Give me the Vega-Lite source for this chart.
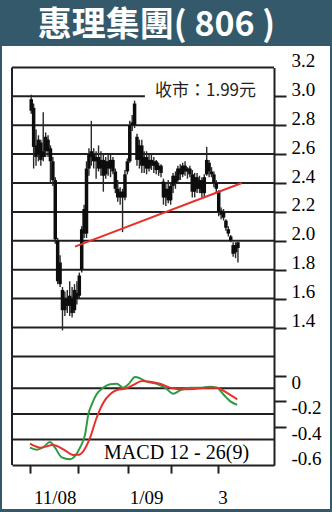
{
  "$schema": "https://vega.github.io/schema/vega-lite/v6.json",
  "width": 328,
  "height": 463,
  "autosize": {"type": "none"},
  "padding": {"left": 2, "top": 46, "right": 2, "bottom": 3},
  "background": "#34596b",
  "title": {
    "text": "惠理集團( 806 )",
    "font": "Noto Sans CJK TC",
    "fontWeight": "bold",
    "fontSize": 34,
    "color": "#ffffff",
    "anchor": "middle",
    "frame": "group",
    "offset": 11,
    "baseline": "alphabetic",
    "dx": -9.5,
    "dy": 35
  },
  "config": {
    "view": {"fill": "#ffffff", "stroke": null},
    "axis": {
      "domainColor": "#231f20",
      "domainWidth": 2,
      "tickColor": "#231f20",
      "tickWidth": 2,
      "labelFont": "Liberation Serif",
      "labelFontSize": 19,
      "labelColor": "#000000",
      "grid": false,
      "labelOverlap": false,
      "labelBound": false,
      "labelFlush": false
    }
  },
  "datasets": {
    "ohlc": [
      {"t":0,"o":2.98,"h":3.01,"l":2.88,"c":2.90},
      {"t":1,"o":2.92,"h":2.95,"l":2.50,"c":2.65},
      {"t":2,"o":2.66,"h":2.77,"l":2.52,"c":2.58},
      {"t":3,"o":2.60,"h":2.73,"l":2.55,"c":2.70},
      {"t":4,"o":2.68,"h":2.70,"l":2.52,"c":2.56},
      {"t":5,"o":2.58,"h":2.89,"l":2.55,"c":2.62},
      {"t":6,"o":2.62,"h":2.75,"l":2.58,"c":2.72},
      {"t":7,"o":2.70,"h":2.73,"l":2.58,"c":2.62},
      {"t":8,"o":2.64,"h":2.66,"l":2.40,"c":2.55},
      {"t":9,"o":2.55,"h":2.58,"l":2.38,"c":2.42},
      {"t":10,"o":2.42,"h":2.44,"l":1.98,"c":2.01},
      {"t":11,"o":2.00,"h":2.02,"l":1.70,"c":1.72},
      {"t":12,"o":1.85,"h":1.90,"l":1.68,"c":1.70},
      {"t":13,"o":1.66,"h":1.68,"l":1.38,"c":1.52},
      {"t":14,"o":1.52,"h":1.65,"l":1.48,"c":1.60},
      {"t":15,"o":1.60,"h":1.66,"l":1.50,"c":1.55},
      {"t":16,"o":1.55,"h":1.72,"l":1.48,"c":1.62},
      {"t":17,"o":1.60,"h":1.68,"l":1.47,"c":1.50},
      {"t":18,"o":1.52,"h":1.70,"l":1.50,"c":1.66},
      {"t":19,"o":1.64,"h":1.72,"l":1.56,"c":1.60},
      {"t":20,"o":1.62,"h":1.78,"l":1.60,"c":1.76},
      {"t":21,"o":1.80,"h":2.10,"l":1.78,"c":2.08},
      {"t":22,"o":2.05,"h":2.25,"l":2.02,"c":2.22},
      {"t":23,"o":2.05,"h":2.55,"l":2.02,"c":2.50},
      {"t":24,"o":2.50,"h":2.64,"l":2.45,"c":2.60},
      {"t":25,"o":2.58,"h":2.83,"l":2.52,"c":2.62},
      {"t":26,"o":2.60,"h":2.64,"l":2.50,"c":2.55},
      {"t":27,"o":2.55,"h":2.62,"l":2.43,"c":2.58},
      {"t":28,"o":2.58,"h":2.66,"l":2.48,"c":2.50},
      {"t":29,"o":2.50,"h":2.62,"l":2.45,"c":2.56},
      {"t":30,"o":2.56,"h":2.60,"l":2.34,"c":2.45},
      {"t":31,"o":2.46,"h":2.58,"l":2.43,"c":2.55},
      {"t":32,"o":2.55,"h":2.60,"l":2.45,"c":2.50},
      {"t":33,"o":2.50,"h":2.60,"l":2.44,"c":2.56},
      {"t":34,"o":2.56,"h":2.58,"l":2.46,"c":2.48},
      {"t":35,"o":2.48,"h":2.50,"l":2.33,"c":2.36},
      {"t":36,"o":2.36,"h":2.42,"l":2.27,"c":2.30},
      {"t":37,"o":2.30,"h":2.37,"l":2.25,"c":2.34},
      {"t":38,"o":2.34,"h":2.36,"l":2.06,"c":2.30},
      {"t":39,"o":2.30,"h":2.49,"l":2.28,"c":2.46},
      {"t":40,"o":2.48,"h":2.57,"l":2.46,"c":2.55},
      {"t":41,"o":2.55,"h":2.83,"l":2.54,"c":2.80},
      {"t":42,"o":2.80,"h":2.87,"l":2.76,"c":2.82},
      {"t":43,"o":2.80,"h":2.97,"l":2.78,"c":2.95},
      {"t":44,"o":2.72,"h":2.74,"l":2.52,"c":2.56},
      {"t":45,"o":2.56,"h":2.70,"l":2.50,"c":2.66},
      {"t":46,"o":2.66,"h":2.70,"l":2.47,"c":2.52},
      {"t":47,"o":2.52,"h":2.62,"l":2.47,"c":2.58},
      {"t":48,"o":2.58,"h":2.62,"l":2.46,"c":2.50},
      {"t":49,"o":2.50,"h":2.60,"l":2.48,"c":2.56},
      {"t":50,"o":2.56,"h":2.60,"l":2.49,"c":2.52},
      {"t":51,"o":2.52,"h":2.58,"l":2.47,"c":2.55},
      {"t":52,"o":2.55,"h":2.56,"l":2.46,"c":2.49},
      {"t":53,"o":2.49,"h":2.54,"l":2.45,"c":2.52},
      {"t":54,"o":2.52,"h":2.53,"l":2.44,"c":2.47},
      {"t":55,"o":2.41,"h":2.43,"l":2.25,"c":2.30},
      {"t":56,"o":2.30,"h":2.40,"l":2.24,"c":2.36},
      {"t":57,"o":2.36,"h":2.42,"l":2.26,"c":2.28},
      {"t":58,"o":2.28,"h":2.40,"l":2.25,"c":2.38},
      {"t":59,"o":2.38,"h":2.47,"l":2.33,"c":2.45},
      {"t":60,"o":2.45,"h":2.48,"l":2.36,"c":2.40},
      {"t":61,"o":2.42,"h":2.52,"l":2.40,"c":2.50},
      {"t":62,"o":2.50,"h":2.53,"l":2.42,"c":2.46},
      {"t":63,"o":2.46,"h":2.54,"l":2.44,"c":2.52},
      {"t":64,"o":2.52,"h":2.55,"l":2.45,"c":2.48},
      {"t":65,"o":2.48,"h":2.51,"l":2.43,"c":2.50},
      {"t":66,"o":2.50,"h":2.52,"l":2.44,"c":2.46},
      {"t":67,"o":2.46,"h":2.49,"l":2.30,"c":2.34},
      {"t":68,"o":2.34,"h":2.47,"l":2.30,"c":2.44},
      {"t":69,"o":2.44,"h":2.47,"l":2.33,"c":2.36},
      {"t":70,"o":2.36,"h":2.45,"l":2.33,"c":2.42},
      {"t":71,"o":2.42,"h":2.44,"l":2.30,"c":2.33},
      {"t":72,"o":2.33,"h":2.46,"l":2.30,"c":2.44},
      {"t":73,"o":2.46,"h":2.65,"l":2.45,"c":2.56},
      {"t":74,"o":2.54,"h":2.56,"l":2.44,"c":2.48},
      {"t":75,"o":2.48,"h":2.51,"l":2.44,"c":2.46},
      {"t":76,"o":2.46,"h":2.48,"l":2.37,"c":2.40},
      {"t":77,"o":2.40,"h":2.42,"l":2.33,"c":2.36},
      {"t":78,"o":2.34,"h":2.35,"l":2.17,"c":2.20},
      {"t":79,"o":2.21,"h":2.23,"l":2.15,"c":2.18},
      {"t":80,"o":2.16,"h":2.22,"l":2.14,"c":2.20},
      {"t":81,"o":2.14,"h":2.15,"l":2.07,"c":2.09},
      {"t":82,"o":2.08,"h":2.10,"l":2.03,"c":2.05},
      {"t":83,"o":2.03,"h":2.04,"l":1.99,"c":2.00},
      {"t":84,"o":1.97,"h":1.99,"l":1.89,"c":1.91},
      {"t":85,"o":1.92,"h":1.99,"l":1.88,"c":1.97},
      {"t":86,"o":1.95,"h":1.99,"l":1.85,"c":1.99}
    ],
    "pgrid": [
      {"p":3.2,"t":-8,"t2":101},
      {"p":3.0,"t":-8,"t2":47.3},
      {"p":2.8,"t":-8,"t2":101},
      {"p":2.6,"t":-8,"t2":101},
      {"p":2.4,"t":-8,"t2":101},
      {"p":2.2,"t":-8,"t2":101},
      {"p":2.0,"t":-8,"t2":101},
      {"p":1.8,"t":-8,"t2":101},
      {"p":1.6,"t":-8,"t2":101},
      {"p":1.4,"t":-8,"t2":101},
      {"p":1.2,"t":-8,"t2":101}
    ],
    "pframe": [{"t":-8,"p":1.2,"p2":3.2}],
    "trend": [{"t":18.2,"p":1.96},{"t":87.6,"p":2.40}],
    "plabel": [{"t":51.5,"p":3.0,"text":"收市：1.99元"}],
    "mgrid": [
      {"v":-0.1,"t":-8,"t2":101},
      {"v":-0.3,"t":-8,"t2":101},
      {"v":-0.5,"t":-8,"t2":101}
    ],
    "mframe": [{"t":-8,"v":-0.7,"v2":0.15}],
    "mlabel": [{"t":30.3,"v":-0.655,"text":"MACD 12 - 26(9)"}],
    "macd": [
      {"s":"MACD","t":-0.5,"v":-0.564},{"s":"MACD","t":2.3,"v":-0.58},{"s":"MACD","t":5.0,"v":-0.56},
      {"s":"MACD","t":7.8,"v":-0.52},{"s":"MACD","t":9.9,"v":-0.564},{"s":"MACD","t":12.7,"v":-0.64},
      {"s":"MACD","t":16.1,"v":-0.655},{"s":"MACD","t":18.2,"v":-0.63},{"s":"MACD","t":20.3,"v":-0.564},
      {"s":"MACD","t":22.4,"v":-0.46},{"s":"MACD","t":23.8,"v":-0.30},{"s":"MACD","t":25.2,"v":-0.225},
      {"s":"MACD","t":27.2,"v":-0.147},{"s":"MACD","t":30.0,"v":-0.095},{"s":"MACD","t":32.8,"v":-0.069},
      {"s":"MACD","t":35.6,"v":-0.064},{"s":"MACD","t":38.3,"v":-0.095},{"s":"MACD","t":40.4,"v":-0.069},
      {"s":"MACD","t":43.2,"v":-0.012},{"s":"MACD","t":45.3,"v":-0.022},{"s":"MACD","t":48.0,"v":-0.048},
      {"s":"MACD","t":52.2,"v":-0.064},{"s":"MACD","t":55.7,"v":-0.095},{"s":"MACD","t":59.1,"v":-0.142},
      {"s":"MACD","t":61.9,"v":-0.116},{"s":"MACD","t":66.1,"v":-0.095},{"s":"MACD","t":70.2,"v":-0.095},
      {"s":"MACD","t":74.4,"v":-0.087},{"s":"MACD","t":77.2,"v":-0.095},{"s":"MACD","t":79.9,"v":-0.147},
      {"s":"MACD","t":82.7,"v":-0.2},{"s":"MACD","t":85.7,"v":-0.23},
      {"s":"Signal","t":-0.5,"v":-0.533},{"s":"Signal","t":3.7,"v":-0.564},{"s":"Signal","t":9.2,"v":-0.543},
      {"s":"Signal","t":13.4,"v":-0.577},{"s":"Signal","t":17.5,"v":-0.621},{"s":"Signal","t":19.6,"v":-0.62},
      {"s":"Signal","t":21.7,"v":-0.59},{"s":"Signal","t":24.5,"v":-0.486},{"s":"Signal","t":27.2,"v":-0.33},
      {"s":"Signal","t":30.0,"v":-0.212},{"s":"Signal","t":32.8,"v":-0.147},{"s":"Signal","t":35.6,"v":-0.113},
      {"s":"Signal","t":39.7,"v":-0.10},{"s":"Signal","t":42.5,"v":-0.074},{"s":"Signal","t":46.0,"v":-0.043},
      {"s":"Signal","t":49.4,"v":-0.048},{"s":"Signal","t":53.6,"v":-0.064},{"s":"Signal","t":57.7,"v":-0.095},
      {"s":"Signal","t":61.9,"v":-0.108},{"s":"Signal","t":67.4,"v":-0.105},{"s":"Signal","t":73.0,"v":-0.095},
      {"s":"Signal","t":77.2,"v":-0.095},{"s":"Signal","t":81.3,"v":-0.134},{"s":"Signal","t":85.7,"v":-0.186}
    ]
  },
  "encoding": {
    "x": {
      "field": "t",
      "type": "quantitative",
      "scale": {"domain": [-8, 101], "range": [10, 272], "zero": false, "nice": false},
      "axis": {
        "title": null,
        "orient": "bottom",
        "offset": -43.9,
        "values": [-0.5, 19.5, 40.3, 58.2, 77.7, 9.8, 47.8, 79.6],
        "labelExpr": "datum.value == 9.8 ? '11/08' : datum.value == 47.8 ? '1/09' : datum.value == 79.6 ? '3' : ''",
        "tickOpacity": {"condition": {"test": "datum.value == 9.8 || datum.value == 47.8 || datum.value == 79.6", "value": 0}, "value": 1},
        "tickSize": 8,
        "labelBaseline": "alphabetic",
        "labelPadding": 30,
        "labelAlign": "center"
      }
    }
  },
  "layer": [
    {
      "layer": [
        {
          "data": {"name": "pgrid"},
          "mark": {"type": "rule", "color": "#231f20", "strokeWidth": 2},
          "encoding": {
            "y": {
              "field": "p",
              "type": "quantitative",
              "scale": {"domain": [1.2, 3.2], "range": [310.4, 21.4], "zero": false, "nice": false},
              "axis": {
                "title": null,
                "orient": "right",
                "offset": -56,
                "values": [1.4, 1.6, 1.8, 2.0, 2.2, 2.4, 2.6, 2.8, 3.0, 3.2],
                "format": ".1f",
                "tickSize": 12,
                "labelPadding": 5,
                "labelAlign": "left",
                "labelBaseline": "alphabetic",
                "labelOffset": -1,
                "tickOpacity": {"condition": {"test": "datum.value > 3.1", "value": 0}, "value": 1}
              }
            },
            "x2": {"field": "t2"}
          }
        },
        {
          "data": {"name": "pframe"},
          "mark": {"type": "rule", "color": "#231f20", "strokeWidth": 2},
          "encoding": {
            "y": {"field": "p", "type": "quantitative", "axis": {"title": null}},
            "y2": {"field": "p2"}
          }
        },
        {
          "data": {"name": "ohlc"},
          "mark": {"type": "rule", "color": "#2b2828", "strokeWidth": 1.4},
          "encoding": {
            "y": {"field": "l", "type": "quantitative", "axis": {"title": null}},
            "y2": {"field": "h"}
          }
        },
        {
          "data": {"name": "ohlc"},
          "mark": {"type": "rule", "color": "#0d0d0d", "strokeWidth": 3.5},
          "encoding": {
            "y": {"field": "o", "type": "quantitative", "axis": {"title": null}},
            "y2": {"field": "c"}
          }
        },
        {
          "data": {"name": "trend"},
          "mark": {"type": "line", "color": "#e8302a", "strokeWidth": 2},
          "encoding": {
            "y": {"field": "p", "type": "quantitative", "axis": {"title": null}}
          }
        },
        {
          "data": {"name": "plabel"},
          "mark": {"type": "text", "font": "Noto Sans CJK TC", "fontSize": 17, "align": "left", "baseline": "alphabetic", "color": "#231f20"},
          "encoding": {
            "y": {"field": "p", "type": "quantitative", "axis": {"title": null}},
            "text": {"field": "text"}
          }
        }
      ]
    },
    {
      "layer": [
        {
          "data": {"name": "mgrid"},
          "mark": {"type": "rule", "color": "#231f20", "strokeWidth": 2},
          "encoding": {
            "y": {
              "field": "v",
              "type": "quantitative",
              "scale": {"domain": [-0.7, 0.15], "range": [419.1, 310.3], "zero": false, "nice": false},
              "axis": {
                "title": null,
                "orient": "right",
                "offset": -56,
                "values": [0, -0.2, -0.4, -0.6],
                "labelExpr": "datum.value == 0 ? '0' : '-' + format(-datum.value, '.1f')",
                "tickSize": 12,
                "labelPadding": 5,
                "labelAlign": "left",
                "labelBaseline": "alphabetic",
                "labelOffset": 12.5,
                "tickOpacity": {"condition": {"test": "datum.value < -0.5", "value": 0}, "value": 1}
              }
            },
            "x2": {"field": "t2"}
          }
        },
        {
          "data": {"name": "mframe"},
          "mark": {"type": "rule", "color": "#231f20", "strokeWidth": 2},
          "encoding": {
            "y": {"field": "v", "type": "quantitative", "axis": {"title": null}},
            "y2": {"field": "v2"}
          }
        },
        {
          "data": {"name": "macd"},
          "mark": {"type": "line", "strokeWidth": 2, "interpolate": "monotone"},
          "encoding": {
            "y": {"field": "v", "type": "quantitative", "axis": {"title": null}},
            "color": {"field": "s", "type": "nominal", "scale": {"domain": ["MACD", "Signal"], "range": ["#2e9a44", "#e8302a"]}, "legend": null}
          }
        },
        {
          "data": {"name": "mlabel"},
          "mark": {"type": "text", "font": "Liberation Serif", "fontSize": 20, "align": "left", "baseline": "alphabetic", "color": "#000000"},
          "encoding": {
            "y": {"field": "v", "type": "quantitative", "axis": {"title": null}},
            "text": {"field": "text"}
          }
        }
      ]
    }
  ],
  "resolve": {"scale": {"y": "independent"}}
}
